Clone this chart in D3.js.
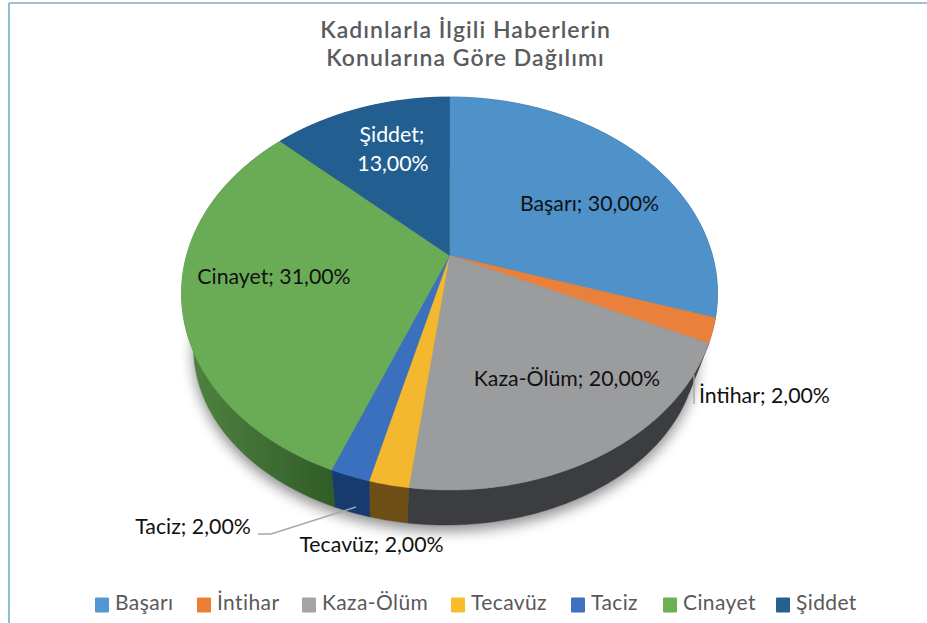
<!DOCTYPE html>
<html><head><meta charset="utf-8">
<script src="https://cdn.jsdelivr.net/npm/d3@7/dist/d3.min.js"></script>
<style>html,body{margin:0;padding:0;background:#fff}svg{display:block}</style>
</head><body><svg id="c" width="927" height="623"></svg>
<script>
const categories = ["Başarı","İntihar","Kaza-Ölüm","Tecavüz","Taciz","Cinayet","Şiddet"];
const values = [30,2,20,2,2,31,13];
const titleLines = ["Kadınlarla İlgili Haberlerin","Konularına Göre Dağılımı"];
const topColors = ["#4f91c9","#e9803a","#9b9c9e","#f4b82f","#3a6fbe","#6aac56","#235f90"];
const wallColors = ["#2f5a80","#8f4e22","#3a3d40","#6d5017","#173a6e","url(#gw)","#163a58"];
const legendSwatches = ["#5297d2","#ed7f35","#a3a4a5","#f7bd2b","#3f70c2","#6db050","#23628f"];

const svg = d3.select("#c");
const defs = svg.append("defs");
defs.append("filter").attr("id","sh").attr("x","-20%").attr("y","-20%").attr("width","140%").attr("height","140%")
  .append("feGaussianBlur").attr("stdDeviation",7);
defs.append("filter").attr("id","soft").append("feGaussianBlur").attr("stdDeviation",0.5);
const gw=defs.append("linearGradient").attr("id","gw").attr("gradientUnits","userSpaceOnUse")
  .attr("x1",190).attr("x2",340).attr("y1",0).attr("y2",0);
gw.append("stop").attr("offset",0).attr("stop-color","#4f8340");
gw.append("stop").attr("offset",1).attr("stop-color","#2f5a27");

// frame
svg.append("line").attr("x1",9).attr("x2",927).attr("y1",3).attr("y2",3).attr("stroke","#7fb0c2").attr("stroke-width",1.6);
svg.append("line").attr("x1",9).attr("x2",9).attr("y1",3).attr("y2",623).attr("stroke","#5ba3c4").attr("stroke-width",1.4);

// title
const title = svg.append("text").attr("text-anchor","middle").attr("fill","#595b5d")
  .style("font-family","Lato").style("font-weight",600).style("font-size","23px").style("letter-spacing","1.05px");
titleLines.forEach((t,i)=>title.append("tspan").attr("x",465.5).attr("y",38+i*28).text(t));

// perspective projection of the unit disc
const cx=449.5, cy=293.5, rx=268, ry=196.5, k=-0.193;
const Yv=847, sy=0.902, sx=0.94, dx=-4;
const project=(a)=>{const u=Math.sin(a),v=-Math.cos(a),d=1+k*v;
  return [cx+rx*u*Math.sqrt(1-k*k)/d, cy+ry*(v+k)/d];};
const lower=(p)=>[cx+dx+sx*(p[0]-cx), Yv+sy*(p[1]-Yv)];
const apex=[cx,cy+ry*k];
const arcs=d3.pie().sort(null).value(d=>d)(values);
const pts=(a0,a1)=>{const n=Math.max(2,Math.ceil((a1-a0)/0.01));
  return d3.range(n+1).map(i=>project(a0+(a1-a0)*i/n));};
const line=d3.line();

// shadow
const full=pts(0,2*Math.PI);
svg.append("path").attr("d",line(full.map(lower))+"Z").attr("transform","translate(0,6)")
  .attr("fill","#000").attr("opacity",0.45).attr("filter","url(#sh)");

// walls
const g=svg.append("g").attr("filter","url(#soft)");
g.selectAll("path.wall").data(arcs).join("path").attr("class","wall")
  .attr("d",d=>{const p=pts(d.startAngle,d.endAngle);return line(p.concat(p.slice().reverse().map(lower)))+"Z";})
  .attr("fill",(d,i)=>wallColors[i]).attr("stroke",(d,i)=>wallColors[i]).attr("stroke-width",0.5);
// top faces
g.selectAll("path.top").data(arcs).join("path").attr("class","top")
  .attr("d",d=>line([apex].concat(pts(d.startAngle,d.endAngle)))+"Z")
  .attr("fill",(d,i)=>topColors[i]).attr("stroke",(d,i)=>topColors[i]).attr("stroke-width",0.4);

// leaders
const lead=svg.append("g").attr("fill","none").attr("stroke","#a6a6a6").attr("stroke-width",1.4);
lead.append("path").attr("d","M258,534H271L356,507");
lead.append("path").attr("d","M694,375V404");

// labels
const fmt=v=>v.toFixed(2).replace(".",",")+"%";
const labelPos=[[589.5,204],[764.5,396],[567,379],[371.5,545],[193,527],[274,277],null];
const labels=svg.append("g").style("font-family","Lato").style("font-size","21.3px").attr("text-anchor","middle").attr("fill","#111");
categories.forEach((c,i)=>{ if(labelPos[i]) labels.append("text").attr("x",labelPos[i][0]).attr("y",labelPos[i][1]+7).text(c+"; "+fmt(values[i])); });
const sd=labels.append("text").attr("fill","#fff");
sd.append("tspan").attr("x",392).attr("y",142).text(categories[6]+";");
sd.append("tspan").attr("x",393).attr("y",171).text(fmt(values[6]));

// legend
const lx=[95,197,302,451,571,663,776];
const leg=svg.append("g").style("font-family","Lato").style("font-size","21px").attr("fill","#595959").style("letter-spacing","0.4px");
categories.forEach((c,i)=>{
  leg.append("rect").attr("x",lx[i]).attr("y",597.5).attr("width",14).attr("height",15).attr("rx",1).attr("fill",legendSwatches[i]);
  leg.append("text").attr("x",lx[i]+20).attr("y",610).text(c);
});
</script></body></html>
